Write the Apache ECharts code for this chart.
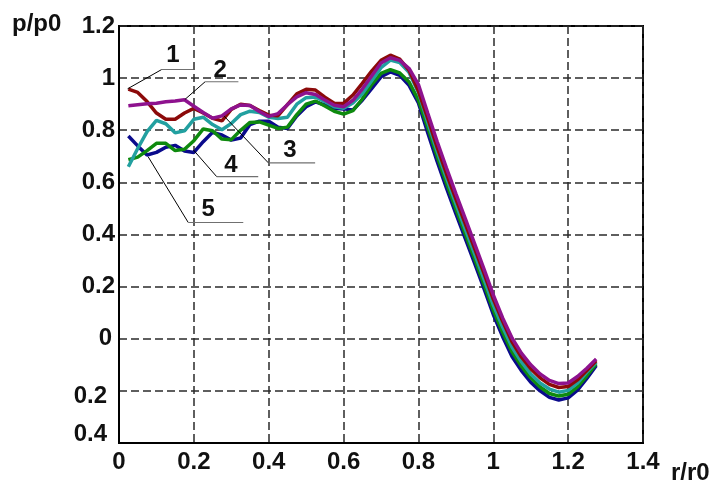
<!DOCTYPE html>
<html><head><meta charset="utf-8">
<script src="https://cdn.jsdelivr.net/npm/echarts@6/dist/echarts.min.js"></script>
<style>html,body{margin:0;padding:0;background:#fff}#c{width:716px;height:482px}</style>
</head><body><div id="c"></div>
<script>
// r/r0 positions shared by all curves
const xs = [0.025,0.05,0.075,0.1,0.125,0.15,0.175,0.2,0.225,0.25,0.275,0.3,0.325,0.35,0.375,0.4,0.425,0.45,0.475,0.5,0.525,0.55,0.575,0.6,0.625,0.65,0.675,0.7,0.725,0.75,0.775,0.8,0.825,0.85,0.875,0.9,0.925,0.95,0.975,1.0,1.025,1.05,1.075,1.1,1.125,1.15,1.175,1.2,1.225,1.25,1.275];
// p/p0 values for curves 1..5
const curve1 = [.958,.945,.91,.866,.842,.842,.866,.884,.866,.846,.836,.88,.9,.895,.876,.858,.856,.898,.94,.957,.954,.927,.904,.903,.935,.98,1.027,1.068,1.088,1.073,1.03,.95,.845,.735,.633,.537,.442,.347,.252,.152,.067,-.012,-.07,-.115,-.15,-.175,-.187,-.183,-.158,-.122,-.085];
const curve2 = [.894,.898,.902,.904,.909,.912,.917,.892,.868,.846,.855,.882,.897,.895,.872,.853,.864,.898,.928,.944,.937,.916,.896,.89,.915,.958,1.008,1.058,1.078,1.068,1.037,.975,.865,.757,.655,.557,.462,.365,.268,.168,.08,.003,-.055,-.1,-.135,-.16,-.172,-.17,-.145,-.113,-.078];
const curve3 = [.66,.73,.795,.838,.825,.79,.798,.842,.85,.822,.802,.826,.86,.873,.868,.85,.845,.85,.9,.925,.928,.91,.89,.884,.905,.94,.99,1.04,1.069,1.06,1.022,.945,.83,.72,.617,.518,.422,.327,.23,.13,.045,-.032,-.088,-.135,-.17,-.193,-.205,-.198,-.17,-.128,-.09];
const curve4 = [.687,.697,.722,.75,.75,.722,.727,.76,.805,.798,.766,.764,.8,.83,.832,.82,.807,.812,.86,.9,.912,.893,.873,.862,.875,.92,.975,1.018,1.033,1.02,.985,.915,.81,.7,.597,.498,.402,.307,.21,.11,.025,-.05,-.105,-.15,-.185,-.21,-.22,-.213,-.185,-.142,-.097];
const curve5 = [.778,.74,.705,.715,.735,.742,.72,.715,.756,.792,.782,.762,.77,.822,.835,.835,.812,.807,.855,.89,.909,.897,.884,.882,.878,.915,.96,1.005,1.024,1.011,.972,.905,.79,.68,.578,.48,.385,.29,.193,.093,.008,-.068,-.122,-.167,-.2,-.225,-.235,-.227,-.197,-.152,-.103];
const curveNames = ['1','2','3','4','5'];
const xTickLabels = ['0','0.2','0.4','0.6','0.8','1','1.2','1.4'];
const yTickLabels = ['0.4','0.2','0','0.2','0.4','0.6','0.8','1','1.2'];
// leader lines (data coords): start on curve, bend, end of underline
const leader1 = [[0.023,0.959],[0.114,1.033],[0.198,1.033]];
const leader2 = [[0.176,0.918],[0.23,0.986],[0.319,0.986]];
const leader3 = [[0.281,0.854],[0.399,0.675],[0.524,0.675]];
const leader4 = [[0.199,0.724],[0.261,0.622],[0.372,0.622]];
const leader5 = [[0.078,0.698],[0.185,0.446],[0.332,0.446]];
const labelPos = [[0.144,1.088],[0.27,1.03],[0.457,0.724],[0.299,0.667],[0.238,0.498]];

const FONT = 'Liberation Sans';
const colors = ['#8c0a0a','#8e128e','#22a0a0','#0e8a0e','#0a0a8c'];
const curves = [curve1,curve2,curve3,curve4,curve5];
const leaders = [leader1,leader2,leader3,leader4,leader5];

const series = [];
const drawOrder = [4,3,2,0,1];
drawOrder.forEach(i => {
  series.push({
    type:'line', name: curveNames[i], data: xs.map((x,k)=>[x,curves[i][k]]),
    showSymbol:false, symbol:'none', lineStyle:{color:colors[i], width:3.5}, z:3, silent:true
  });
});
leaders.forEach(L => {
  series.push({type:'line', data:[L[0],L[1]], symbol:'none', lineStyle:{color:'#000',width:1}, z:4, silent:true});
  series.push({type:'line', data:[L[1],L[2]], symbol:'none', lineStyle:{color:'#707070',width:1.2}, z:4, silent:true});
});
series.push({
  type:'scatter', symbolSize:0, z:5, silent:true,
  itemStyle:{color:'#111', opacity:1},
  data: labelPos.map((p,i)=>({value:p, name:curveNames[i]})),
  label:{show:true, position:'inside', formatter: p=>p.name, fontFamily:FONT, fontWeight:'bold', fontSize:24, color:'#111', textBorderWidth:0, textBorderColor:'transparent'}
});

const lblStyle = {fontFamily:FONT, fontWeight:'bold', fontSize:24, color:'#111'};
const chart = echarts.init(document.getElementById('c'));
chart.setOption({
  animation:false,
  backgroundColor:'#fff',
  grid:{left:119, right:73, top:26, bottom:39, show:true, borderColor:'#000', borderWidth:2, containLabel:false},
  xAxis:{type:'value', min:0, max:1.4, interval:0.2,
    axisLine:{onZero:false, lineStyle:{color:'#000',width:2}}, axisTick:{show:false},
    splitLine:{show:true, lineStyle:{color:'#2a2a2a', width:1.5, type:[8,4]}},
    axisLabel:Object.assign({margin:7, formatter:v=>xTickLabels[Math.round(v/0.2)]}, lblStyle)},
  yAxis:{type:'value', min:-0.4, max:1.2, interval:0.2,
    axisLine:{onZero:false, lineStyle:{color:'#000',width:2}}, axisTick:{show:false},
    splitLine:{show:true, lineStyle:{color:'#2a2a2a', width:1.5, type:[8,4]}},
    axisLabel:Object.assign({margin:4, formatter:v=>{
      const i = Math.round((v+0.4)/0.2); const t = yTickLabels[i];
      if(i===0) return '{b|'+t+'}';
      if(i===1) return '{n|'+t+'}';
      if(i===2) return '{z|'+t+'}';
      return t;
    }, rich:{
      b:Object.assign({padding:[0,8,17,0]}, lblStyle),
      n:Object.assign({padding:[11,8,0,0]}, lblStyle),
      z:Object.assign({padding:[0,3,0,0]}, lblStyle)
    }}, lblStyle)},
  graphic:[
    {type:'text', left:12, top:12, style:{text:'p/p0', font:'bold 24px "Liberation Sans"', fill:'#111'}},
    {type:'text', left:671, top:461, style:{text:'r/r0', font:'bold 24px "Liberation Sans"', fill:'#111'}}
  ],
  series: series
});
</script></body></html>
